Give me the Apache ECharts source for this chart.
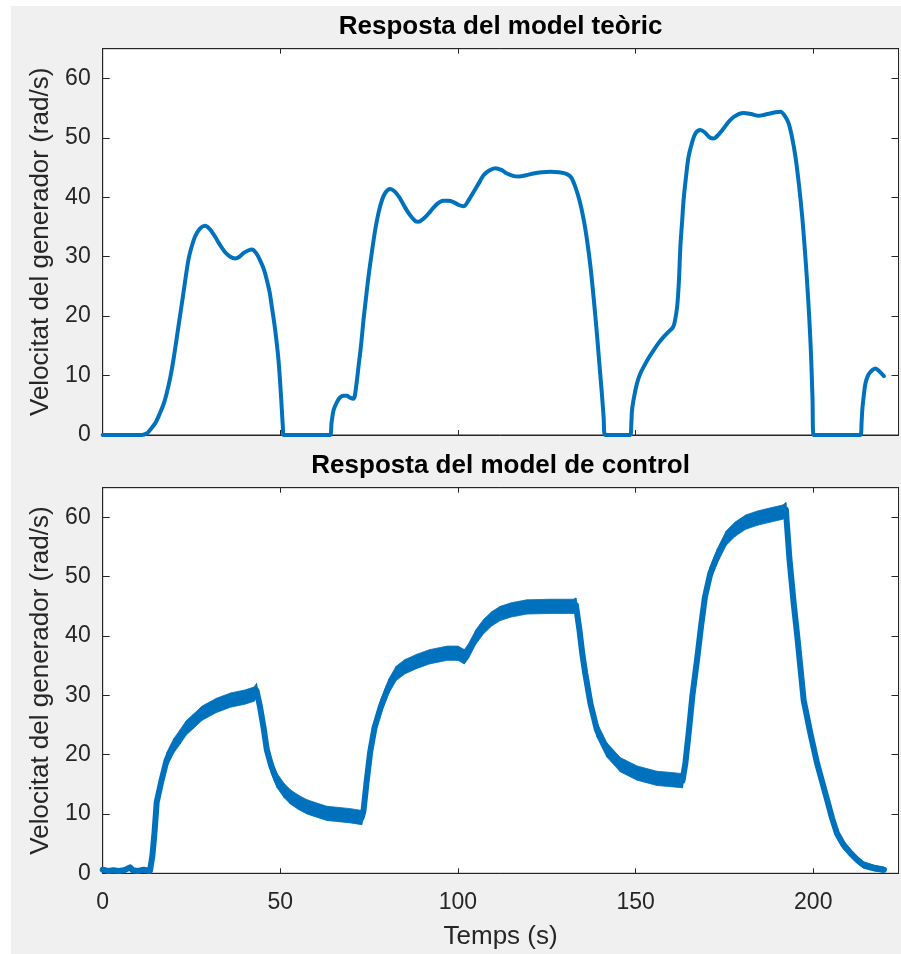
<!DOCTYPE html>
<html>
<head>
<meta charset="utf-8">
<script src="https://cdn.jsdelivr.net/npm/echarts@6/dist/echarts.min.js"></script>
<style>
  html, body { margin: 0; padding: 0; background: #ffffff; }
  #chart { position: absolute; left: 11px; top: 6px; width: 890px; height: 948px; background: #f0f0f0; }
</style>
</head>
<body>
<div id="chart"></div>
<script>
// Theoretical model response: time (s) and generator speed (rad/s)
const teoricTime = [
  0, 11, 12.5, 13.3, 14.8, 16.1, 17.2, 18.0, 19.0, 19.9, 21.3, 22.7, 24.1, 25.0, 26.0, 27.3, 28.8, 30.2, 31.6, 33.0,
  34.4, 35.9, 37.3, 38.5, 39.6, 40.8, 42.0, 43.2, 44.3, 45.3, 46.2, 47.0, 47.6, 48.3, 49.0, 49.5, 49.9, 50.3, 50.7, 51.0,
  64.0, 64.4, 65.0, 65.9, 66.8, 67.8, 68.7, 69.6, 70.6, 71.3, 72.0, 72.7, 73.4, 74.1, 74.8, 75.7, 76.7, 77.6, 78.6, 79.6,
  80.9, 82.3, 83.7, 85.1, 86.5, 88.0, 88.9, 90.5, 92.2, 94.0, 95.9, 97.3, 98.7, 100.2, 101.6, 103.0, 104.4, 105.8, 107.2, 108.8,
  110.5, 112.2, 113.8, 115.5, 117.1, 119.2, 121.3, 123.6, 126.0, 128.4, 130.7, 131.9, 133.0, 134.2, 135.4, 136.4, 137.3, 138.2, 139.1, 139.8,
  140.5, 141.0, 141.4, 148.5, 148.8, 149.0, 149.6, 150.4, 151.3, 152.3, 153.7, 155.1, 156.5, 157.9, 159.3, 160.5, 161.0, 161.7, 162.2, 162.6,
  163.1, 163.5, 164.2, 164.9, 165.8, 166.8, 168.2, 169.5, 170.8, 172.0, 173.4, 174.8, 176.2, 177.6, 179.0, 180.4, 182.5, 184.7, 186.3, 187.9,
  189.4, 190.8, 192.0, 193.1, 194.0, 195.0, 196.0, 196.9, 197.6, 198.3, 198.9, 199.4, 199.8, 200.1, 213.3, 213.6, 213.8, 214.2, 214.7, 215.4,
  216.1, 216.8, 217.5, 218.3, 219.1, 219.9
];
const teoricSpeed = [
  0, 0, 0.3, 0.84, 2.0, 3.65, 5.3, 7.0, 9.6, 12.6, 18.2, 23.8, 29.4, 31.6, 33.4, 34.7, 35.2, 34.6, 33.4, 32.0,
  30.8, 30.0, 29.7, 30.0, 30.6, 31.0, 31.2, 30.6, 29.4, 28.0, 26.1, 24.0, 21.6, 18.8, 15.4, 12.5, 9.25, 5.5, 1.5, 0,
  0, 2.0, 4.2, 5.5, 6.3, 6.6, 6.6, 6.3, 6.1, 8.0, 11.5, 15.0, 19.3, 23.0, 26.6, 30.5, 34.5, 37.3, 39.5, 40.8,
  41.4, 40.9, 39.8, 38.3, 37.0, 36.0, 35.9, 36.5, 37.6, 38.8, 39.4, 39.4, 39.2, 38.7, 38.5, 39.5, 40.9, 42.3, 43.7, 44.5,
  44.9, 44.6, 44.0, 43.6, 43.5, 43.7, 44.0, 44.2, 44.3, 44.2, 43.9, 43.3, 41.8, 39.5, 36.2, 32.5, 28.3, 23.0, 17.1, 12.0,
  7.0, 3.0, 0, 0, 2.0, 4.2, 6.5, 8.7, 10.3, 11.5, 13.0, 14.3, 15.5, 16.5, 17.4, 18.1, 19.0, 21.6, 26.0, 31.7,
  36.0, 39.5, 43.5, 46.8, 49.0, 50.7, 51.3, 50.9, 50.1, 49.9, 50.6, 51.6, 52.7, 53.5, 54.0, 54.2, 54.0, 53.7, 53.9, 54.1,
  54.3, 54.4, 53.7, 52.4, 50.2, 46.8, 42.0, 36.7, 31.5, 25.5, 19.5, 13.2, 6.0, 0, 0, 2.0, 4.2, 6.5, 8.7, 10.0,
  10.6, 11.0, 11.2, 10.9, 10.4, 9.9
];

// Control model response: time (s), mean generator speed (rad/s) and half-width of the measured noise band
const controlTime = [
  0, 1.5, 3, 4.5, 6, 7.7, 8.5, 10, 11.5, 13.3,
  14.0, 14.6, 15.2, 16.5, 18.0, 20.0, 21.8, 23.5, 25.5, 28.0, 32.0, 36.0, 40.0, 42.6, 43.3,
  44.3, 45.3, 46.2, 47.5, 49.0, 51.0, 52.8, 55.0, 57.5, 60.0, 63.1, 66.5, 69.7, 72.9,
  73.4, 74.3, 75.3, 76.5, 78.3, 80.5, 82.6, 85.0, 88.3, 92.0, 97.0, 100.0, 101.8,
  103.0, 105.0, 107.2, 109.5, 111.9, 115.0, 119.4, 126.0, 132.5, 133.2,
  134.2, 135.0, 135.8, 137.3, 139.1, 141.9, 145.7, 150.4, 156.0, 160.0, 163.2,
  164.0, 165.0, 166.0, 167.3, 168.5, 169.5, 171.0, 173.0, 175.5, 178.0, 181.0, 184.5, 188.0, 191.5, 192.3,
  193.3, 194.5, 195.5, 196.5, 197.3, 199.2, 201.1, 203.9, 205.3, 206.7, 208.5, 210.5, 212.5, 214.2, 217.0, 219.9
];
const controlSpeed = [
  0.6, 0.4, 0.5, 0.4, 0.5, 1.0, 0.5, 0.4, 0.6, 0.4,
  3.0, 7.0, 12.0, 15.5, 19.1, 21.5, 23.0, 24.5, 25.6, 27.0, 28.3, 29.2, 29.7, 30.2, 30.8,
  28.0, 24.5, 20.8, 18.0, 15.7, 14.0, 12.9, 12.0, 11.2, 10.7, 10.1, 9.9, 9.7, 9.4,
  10.5, 15.5, 20.5, 24.5, 28.1, 31.5, 33.7, 34.8, 35.7, 36.5, 37.1, 37.1, 36.5,
  37.5, 39.8, 41.6, 42.9, 43.8, 44.4, 44.9, 45.0, 45.0, 45.2,
  41.0, 37.0, 33.8, 28.6, 24.2, 20.8, 18.3, 16.9, 16.0, 15.8, 15.6,
  18.5, 24.0, 30.0, 36.0, 42.0, 46.5, 50.5, 53.5, 56.5, 58.0, 59.2, 59.9, 60.4, 60.9, 61.3,
  53.0, 45.5, 40.0, 34.0, 29.2, 23.6, 18.5, 12.4, 9.3, 6.7, 4.8, 3.4, 2.2, 1.4, 0.9, 0.6
];
const controlSpread = [
  0.35, 0.35, 0.35, 0.35, 0.35, 0.35, 0.35, 0.35, 0.35, 0.35,
  0.6, 0.9, 1.2, 1.2, 1.2, 1.2, 1.2, 1.2, 1.2, 1.2, 1.2, 1.2, 1.2, 1.2, 1.2,
  1.2, 1.2, 1.2, 1.2, 1.2, 1.2, 1.2, 1.2, 1.2, 1.2, 1.2, 1.2, 1.2, 1.2,
  1.2, 1.2, 1.2, 1.2, 1.2, 1.2, 1.2, 1.2, 1.2, 1.2, 1.2, 1.2, 1.2,
  1.2, 1.2, 1.2, 1.2, 1.2, 1.2, 1.2, 1.2, 1.2, 1.2,
  1.2, 1.2, 1.2, 1.2, 1.2, 1.2, 1.2, 1.2, 1.2, 1.2, 1.2,
  1.2, 1.2, 1.2, 1.2, 1.2, 1.2, 1.2, 1.2, 1.2, 1.2, 1.2, 1.2, 1.2, 1.2, 1.2,
  1.2, 1.2, 1.2, 1.2, 1.2, 1.2, 1.1, 1.0, 0.9, 0.8, 0.7, 0.65, 0.6, 0.55, 0.5, 0.45
];

const titles = ['Resposta del model teòric', 'Resposta del model de control'];
const xTickValues = [0, 50, 100, 150, 200];
const yTickValues = [0, 10, 20, 30, 40, 50, 60];
const xLabel = 'Temps (s)';
const yLabel = 'Velocitat del generador (rad/s)';

const X_MAX = 224, Y_MAX = 65;
const AXIS_COLOR = '#262626';
const LINE_COLOR = '#0072BD';
const FONT = 'Liberation Sans, Arial, Helvetica, sans-serif';

const grids = [
  { left: 91.7, top: 42.7, width: 795.8, height: 386.3 },
  { left: 91.7, top: 481.7, width: 795.8, height: 385.6 }
];

function xAxisFor(gridIndex, position, withLabels) {
  return {
    type: 'value', gridIndex, position, min: 0, max: X_MAX, interval: 50,
    axisLine: { show: true, onZero: false, lineStyle: { color: AXIS_COLOR, width: 1 } },
    axisTick: { show: true, inside: true, length: 5, lineStyle: { color: AXIS_COLOR, width: 1 } },
    axisLabel: {
      show: withLabels, margin: 18, color: AXIS_COLOR, fontSize: 23, fontFamily: FONT,
      showMaxLabel: false,
      formatter: v => xTickValues.includes(v) ? String(v) : ''
    },
    splitLine: { show: false },
    name: withLabels ? xLabel : '',
    nameLocation: 'middle', nameGap: 51,
    nameTextStyle: { color: AXIS_COLOR, fontSize: 26, fontFamily: FONT }
  };
}
function yAxisFor(gridIndex, position, withLabels) {
  return {
    type: 'value', gridIndex, position, min: 0, max: Y_MAX, interval: 10,
    axisLine: { show: true, onZero: false, lineStyle: { color: AXIS_COLOR, width: 1 } },
    axisTick: { show: true, inside: true, length: 7, lineStyle: { color: AXIS_COLOR, width: 1 } },
    axisLabel: {
      show: withLabels, margin: 12, color: AXIS_COLOR, fontSize: 23, fontFamily: FONT,
      showMaxLabel: false,
      formatter: v => yTickValues.includes(v) ? String(v) : ''
    },
    splitLine: { show: false },
    name: withLabels ? yLabel : '',
    nameLocation: 'middle', nameGap: 34,
    nameTextStyle: { color: AXIS_COLOR, fontSize: 26, fontFamily: FONT }
  };
}

const teoricData = teoricTime.map((t, i) => [t, teoricSpeed[i]]);
const controlLine = controlTime.map((t, i) => [t, controlSpeed[i]]);
const bandData = controlTime.map((t, i) => [t, controlSpeed[i] - controlSpread[i], controlSpeed[i] + controlSpread[i]]);

// Noise band of the measured signal: one filled quad between consecutive samples
function renderBand(params, api) {
  const i = params.dataIndex;
  if (i >= bandData.length - 1) return null;
  const a = bandData[i], b = bandData[i + 1];
  const pts = [
    api.coord([a[0], a[1]]), api.coord([b[0], b[1]]),
    api.coord([b[0], b[2]]), api.coord([a[0], a[2]])
  ];
  return {
    type: 'polygon',
    shape: { points: pts },
    style: { fill: LINE_COLOR, stroke: LINE_COLOR, lineWidth: 0.8 }
  };
}

const chart = echarts.init(document.getElementById('chart'), null, { renderer: 'canvas' });
chart.setOption({
  animation: false,
  backgroundColor: 'transparent',
  textStyle: { fontFamily: FONT },
  grid: grids.map(g => Object.assign({
    show: true, backgroundColor: '#ffffff', borderColor: AXIS_COLOR, borderWidth: 1, containLabel: false
  }, g)),
  graphic: grids.map((g, i) => ({
    type: 'text',
    x: g.left + g.width / 2,
    y: g.top - 21.7,
    style: {
      text: titles[i], fill: '#000000', font: 'bold 26px ' + FONT,
      textAlign: 'center', textVerticalAlign: 'middle'
    }
  })),
  xAxis: [
    xAxisFor(0, 'bottom', false), xAxisFor(0, 'top', false),
    xAxisFor(1, 'bottom', true), xAxisFor(1, 'top', false)
  ],
  yAxis: [
    yAxisFor(0, 'left', true), yAxisFor(0, 'right', false),
    yAxisFor(1, 'left', true), yAxisFor(1, 'right', false)
  ],
  series: [
    {
      type: 'line', xAxisIndex: 0, yAxisIndex: 0, data: teoricData,
      symbol: 'none', smooth: 0.3, clip: false,
      lineStyle: { color: LINE_COLOR, width: 4, cap: 'round', join: 'round' }
    },
    {
      type: 'custom', xAxisIndex: 2, yAxisIndex: 2, data: bandData,
      encode: { x: 0, y: [1, 2] }, renderItem: renderBand, clip: false
    },
    {
      type: 'line', xAxisIndex: 2, yAxisIndex: 2, data: controlLine,
      symbol: 'none', clip: false,
      lineStyle: { color: LINE_COLOR, width: 6, cap: 'round', join: 'round' }
    }
  ]
});
</script>
</body>
</html>
